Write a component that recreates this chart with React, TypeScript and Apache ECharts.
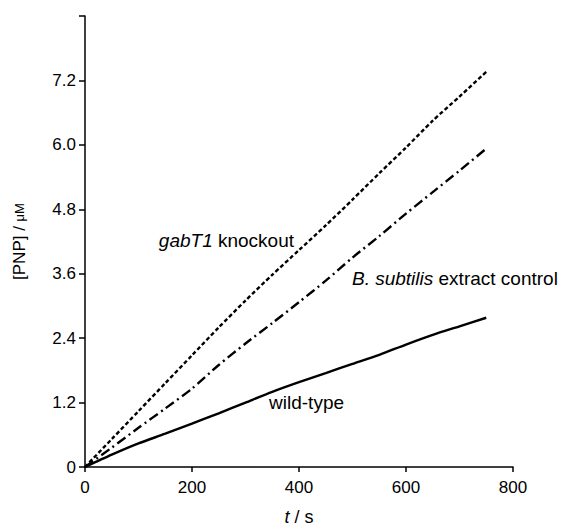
import React, { useEffect, useRef } from "react";
import * as echarts from "echarts";

const times = [0, 50, 100, 150, 200, 250, 300, 350, 400, 450, 500, 550, 600, 650, 700, 750];
const knockout = [0, 0.52, 1.04, 1.56, 2.08, 2.6, 3.1, 3.58, 4.04, 4.5, 4.98, 5.47, 5.95, 6.45, 6.9, 7.36];
const extractControl = [0, 0.36, 0.73, 1.09, 1.46, 1.9, 2.3, 2.68, 3.07, 3.47, 3.9, 4.3, 4.72, 5.12, 5.52, 5.93];
const wildType = [0, 0.23, 0.44, 0.62, 0.81, 1.0, 1.2, 1.4, 1.58, 1.75, 1.92, 2.09, 2.28, 2.46, 2.62, 2.78];

const yTicks = ["0", "1.2", "2.4", "3.6", "4.8", "6.0", "7.2", ""];

const annotations = [
  { text: "{i|gabT1} knockout", at: [138, 4.22] },
  { text: "{i|B. subtilis} extract control", at: [499, 3.51] },
  { text: "wild-type", at: [344, 1.2] },
];

const FONT = "Liberation Sans, Arial, sans-serif";

export default function App() {
  const ref = useRef<HTMLDivElement>(null);
  useEffect(() => {
    if (!ref.current) return;
    const chart = echarts.init(ref.current, null, { renderer: "svg" });
    const pair = (arr: number[]) => times.map((t, i) => [t, arr[i]]);
    const lineSeries = (name: string, arr: number[], type: any) => ({
      name,
      type: "line",
      data: pair(arr),
      showSymbol: false,
      symbol: "none",
      smooth: 0.25,
      lineStyle: { color: "#000", width: 2.4, type },
    });
    chart.setOption({
      animation: false,
      backgroundColor: "#fff",
      grid: { left: 85, right: 48, top: 16, bottom: 61 },
      xAxis: {
        type: "value",
        min: 0,
        max: 800,
        interval: 200,
        name: "{i|t} / s",
        nameLocation: "middle",
        nameGap: 41,
        nameTextStyle: {
          fontFamily: FONT,
          fontSize: 18,
          color: "#000",
          rich: { i: { fontStyle: "italic", fontFamily: FONT, fontSize: 18, color: "#000" } },
        },
        axisLine: { lineStyle: { color: "#000", width: 1.5 } },
        axisTick: { show: true, inside: false, length: 5, lineStyle: { color: "#000", width: 1.5 } },
        axisLabel: { color: "#000", fontFamily: FONT, fontSize: 17, margin: 12 },
        splitLine: { show: false },
      },
      yAxis: {
        type: "value",
        min: 0,
        max: 8.4,
        interval: 1.2,
        name: "[PNP] / {s|μM}",
        nameLocation: "middle",
        nameRotate: 90,
        nameGap: 57,
        nameTextStyle: {
          fontFamily: FONT,
          fontSize: 17,
          color: "#000",
          rich: { s: { fontFamily: FONT, fontSize: 13, color: "#000" } },
        },
        axisLine: { lineStyle: { color: "#000", width: 1.5 } },
        axisTick: { show: true, inside: false, length: 6, lineStyle: { color: "#000", width: 1.5 } },
        axisLabel: {
          color: "#000",
          fontFamily: FONT,
          fontSize: 17,
          margin: 9,
          formatter: (_v: number, i: number) => yTicks[i] ?? "",
        },
        splitLine: { show: false },
      },
      series: [
        lineSeries("gabT1 knockout", knockout, [4, 2.5]),
        lineSeries("B. subtilis extract control", extractControl, [10, 4, 2, 4]),
        lineSeries("wild-type", wildType, "solid"),
      ],
    });
    const graphic = annotations.map((a) => {
      const p = chart.convertToPixel({ xAxisIndex: 0, yAxisIndex: 0 }, a.at) as number[];
      return {
        type: "text",
        x: p[0],
        y: p[1],
        style: {
          text: a.text,
          fontFamily: FONT,
          fontSize: 19,
          fill: "#000",
          verticalAlign: "middle",
          align: "left",
          rich: { i: { fontStyle: "italic", fontFamily: FONT, fontSize: 19, fill: "#000" } },
        },
      };
    });
    chart.setOption({ graphic });
    return () => chart.dispose();
  }, []);
  return (
    <div
      ref={ref}
      style={{ position: "absolute", left: 0, top: 0, width: 561, height: 531 }}
    />
  );
}
